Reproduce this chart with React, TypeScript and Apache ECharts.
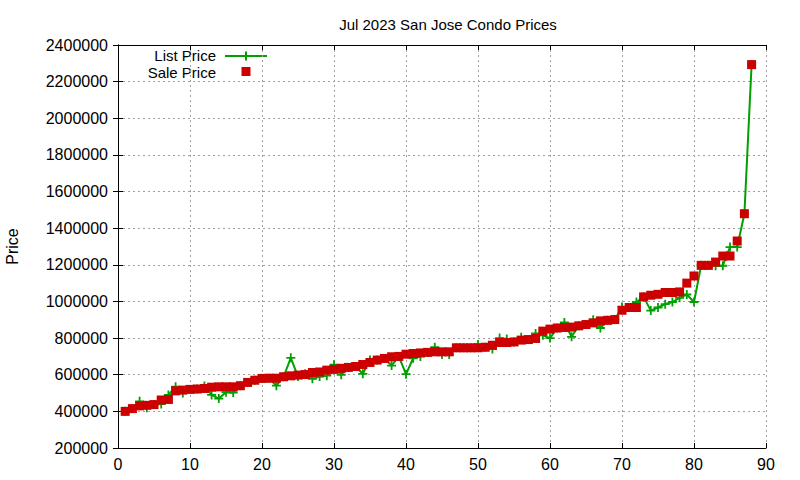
import { useEffect, useRef } from "react";
import * as echarts from "echarts";

// listing index (1..88), sorted by sale price
const listingNo: number[] = [
  1, 2, 3, 4, 5, 6, 7, 8, 9, 10, 11, 12, 13, 14, 15, 16, 17, 18, 19, 20, 21, 22,
  23, 24, 25, 26, 27, 28, 29, 30, 31, 32, 33, 34, 35, 36, 37, 38, 39, 40, 41, 42,
  43, 44, 45, 46, 47, 48, 49, 50, 51, 52, 53, 54, 55, 56, 57, 58, 59, 60, 61, 62,
  63, 64, 65, 66, 67, 68, 69, 70, 71, 72, 73, 74, 75, 76, 77, 78, 79, 80, 81, 82,
  83, 84, 85, 86, 87, 88,
];

const listPrice: number[] = [
  400000, 415000, 455000, 420000, 437000, 440000, 490000, 535000, 500000, 520000,
  522000, 538000, 490000, 470000, 505000, 503000, 540000, 558000, 570000, 580000,
  581000, 540000, 589000, 692000, 590000, 605000, 578000, 590000, 595000, 655000,
  600000, 640000, 645000, 605000, 680000, 680000, 689000, 650000, 700000, 603000,
  690000, 700000, 722000, 750000, 710000, 710000, 747000, 747000, 747000, 765000,
  750000, 740000, 800000, 795000, 779000, 805000, 792000, 825000, 815000, 800000,
  855000, 885000, 807000, 867000, 874000, 900000, 855000, 897000, 901000, 970000,
  967000, 997000, 1025000, 950000, 967000, 985000, 997000, 1020000, 1038000, 997000,
  1197000, 1197000, 1195000, 1195000, 1297000, 1297000, 1479000, 2293000,
];

const salePrice: number[] = [
  400000, 415000, 430000, 433000, 437000, 462000, 465000, 512000, 516000, 520000,
  522000, 525000, 532000, 534000, 534000, 534000, 540000, 558000, 570000, 580000,
  581000, 581000, 589000, 594000, 598000, 601000, 612000, 615000, 625000, 629000,
  635000, 640000, 645000, 656000, 667000, 680000, 689000, 698000, 700000, 712000,
  716000, 719000, 722000, 725000, 725000, 725000, 747000, 747000, 747000, 747000,
  750000, 761000, 776000, 776000, 779000, 789000, 792000, 798000, 838000, 849000,
  855000, 858000, 860000, 867000, 874000, 883000, 894000, 897000, 901000, 952000,
  967000, 967000, 1025000, 1034000, 1039000, 1049000, 1049000, 1052000, 1100000, 1139000,
  1197000, 1197000, 1215000, 1248000, 1248000, 1330000, 1479000, 2293000,
];

const GREEN = "#00a000";
const RED = "#cc0000";
const FONT = "Liberation Sans, Arial, sans-serif";
const CROSS = "path://M4,0h2v4h4v2h-4v4h-2v-4h-4v-2h4z";

const App = () => {
  const chartRef = useRef<HTMLDivElement>(null);

  useEffect(() => {
    const chart = echarts.init(chartRef.current, null, { renderer: "svg" });

    const tickStyle = {
      show: true,
      inside: true,
      length: 5,
      lineStyle: { color: "#000", width: 1 },
    };
    const gridLine = {
      show: true,
      lineStyle: { color: "#a0a0a0", width: 1, type: [2, 3] as number[] },
    };

    chart.setOption({
      animation: false,
      backgroundColor: "#fff",
      textStyle: { fontFamily: FONT },
      title: {
        text: "Jul 2023 San Jose Condo Prices",
        left: 443,
        top: 12,
        textAlign: "center",
        textStyle: { fontSize: 15, fontWeight: "normal", color: "#000", fontFamily: FONT },
      },
      grid: { left: 118, right: 34, top: 45, bottom: 32, outerBoundsMode: "none" },
      xAxis: [
        {
          type: "value",
          position: "bottom",
          min: 0,
          max: 90,
          interval: 10,
          axisLine: { show: true, lineStyle: { color: "#000", width: 1 } },
          axisTick: tickStyle,
          axisLabel: { fontSize: 16, color: "#000", margin: 8, fontFamily: FONT },
          splitLine: gridLine,
        },
        {
          type: "value",
          position: "top",
          min: 0,
          max: 90,
          interval: 10,
          axisLine: { show: true, lineStyle: { color: "#000", width: 1 } },
          axisTick: tickStyle,
          axisLabel: { show: false },
          splitLine: { show: false },
        },
      ],
      yAxis: [
        {
          type: "value",
          position: "left",
          min: 200000,
          max: 2400000,
          interval: 200000,
          name: "Price",
          nameLocation: "middle",
          nameRotate: 90,
          nameGap: 98,
          nameTextStyle: { fontSize: 16, color: "#000", fontFamily: FONT },
          axisLine: { show: true, lineStyle: { color: "#000", width: 1 } },
          axisTick: tickStyle,
          axisLabel: {
            fontSize: 16,
            color: "#000",
            margin: 10,
            fontFamily: FONT,
            formatter: (v: number) => String(v),
          },
          splitLine: gridLine,
        },
        {
          type: "value",
          position: "right",
          min: 200000,
          max: 2400000,
          interval: 200000,
          axisLine: { show: true, lineStyle: { color: "#000", width: 1 } },
          axisTick: tickStyle,
          axisLabel: { show: false },
          splitLine: { show: false },
        },
      ],
      series: [
        {
          name: "List Price",
          type: "line",
          data: listingNo.map((n, i) => [n, listPrice[i]]),
          symbol: CROSS,
          symbolSize: 9,
          showAllSymbol: true,
          lineStyle: { color: GREEN, width: 2 },
          itemStyle: { color: GREEN, opacity: 1 },
          clip: false,
          z: 2,
        },
        {
          name: "Sale Price",
          type: "scatter",
          data: listingNo.map((n, i) => [n, salePrice[i]]),
          symbol: "rect",
          symbolSize: 9,
          itemStyle: { color: RED, opacity: 1 },
          clip: false,
          z: 3,
        },
      ],
      graphic: [
        {
          type: "text",
          x: 216,
          y: 55,
          style: {
            text: "List Price",
            fontSize: 15,
            fontFamily: FONT,
            fill: "#000",
            align: "right",
            verticalAlign: "middle",
          },
        },
        {
          type: "line",
          shape: { x1: 225, y1: 56, x2: 267, y2: 56 },
          style: { stroke: GREEN, lineWidth: 2 },
        },
        {
          type: "line",
          shape: { x1: 246, y1: 51.5, x2: 246, y2: 60.5 },
          style: { stroke: GREEN, lineWidth: 2 },
        },
        {
          type: "text",
          x: 216,
          y: 72,
          style: {
            text: "Sale Price",
            fontSize: 15,
            fontFamily: FONT,
            fill: "#000",
            align: "right",
            verticalAlign: "middle",
          },
        },
        {
          type: "rect",
          shape: { x: 241.5, y: 67, width: 9, height: 9 },
          style: { fill: RED },
        },
      ],
    });

    return () => {
      chart.dispose();
    };
  }, []);

  return (
    <div
      ref={chartRef}
      style={{ position: "absolute", left: 0, top: 0, width: "800px", height: "480px" }}
    ></div>
  );
};

export default App;
